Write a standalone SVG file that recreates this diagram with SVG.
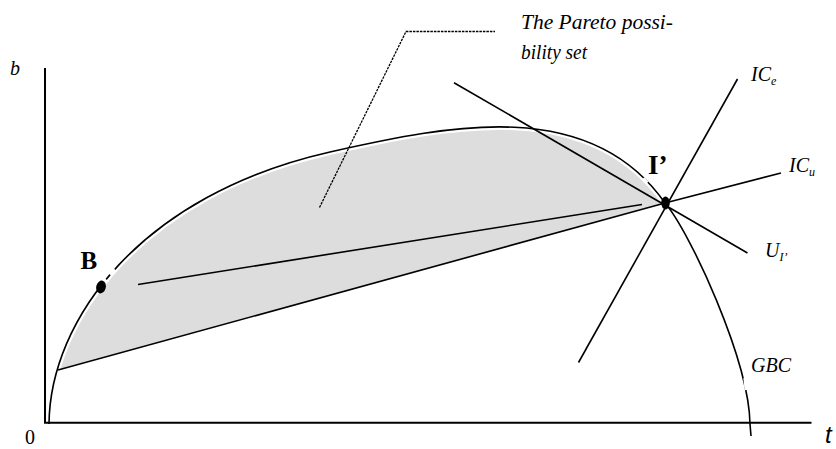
<svg xmlns="http://www.w3.org/2000/svg" width="836" height="449" viewBox="0 0 836 449">
<style>
.ln{stroke:#000;stroke-width:1.6;fill:none;stroke-linecap:butt}
.ax{stroke:#000;stroke-width:2;fill:none}
.it{font-family:"Liberation Serif",serif;font-style:italic;font-size:20px;fill:#000}
.bd{font-family:"Liberation Serif",serif;font-weight:bold;fill:#000}
.sub{font-size:12px}
.gap{stroke:#fff;stroke-width:4;fill:none}
</style>
<rect width="836" height="449" fill="#fff"/>
<g id="pareto-set">
<path d="M49,424 C50,320 140,195 330,152 C450,125 590,96 665,203 L58,370 Z" fill="#dddddd"/>
</g>
<g id="connectors">
<path d="M49,424 C50,320 140,195 330,152 C450,125 590,96 665,203 C690,232 749,360 750,424" stroke="#fff" stroke-width="6" fill="none"/>
<path id="gbc" class="ln" d="M49,424 C50,320 140,195 330,152 C450,125 590,96 665,203 C690,232 749,360 750,424 L751,436"/>
<line class="gap" x1="103.8" y1="282.3" x2="106.2" y2="279.4"/>
<line class="gap" x1="110" y1="274.6" x2="115" y2="269.5"/>
<line class="gap" x1="643" y1="178.5" x2="647" y2="183"/>
<line class="gap" x1="745.3" y1="378" x2="746.6" y2="390"/>
<line class="ln" x1="58" y1="370" x2="665" y2="203"/>
<line class="ln" x1="138" y1="284.5" x2="642" y2="204.5"/>
<line class="ln" x1="454" y1="82.7" x2="747.5" y2="253"/>
<line class="ln" x1="578.5" y1="362.5" x2="737.5" y2="79"/>
<line class="ln" x1="665" y1="203" x2="781" y2="173"/>
<polyline points="319.5,207.5 406,31.5 495,31.5" fill="none" stroke="#000" stroke-width="1.3" stroke-dasharray="2.5,1"/>
</g>
<g id="axes">
<line class="ax" x1="45" y1="68" x2="45" y2="423"/>
<line class="ax" x1="44" y1="422.7" x2="811.5" y2="422.7"/>
</g>
<g id="point-B">
<ellipse cx="101" cy="287" rx="4.8" ry="6.5" transform="rotate(15 101 287)" fill="#000"/>
<text class="bd" x="80.5" y="268.5" font-size="25">B</text>
</g>
<g id="point-I">
<ellipse cx="665.5" cy="203" rx="4.3" ry="6.5" fill="#000"/>
<text class="bd" x="648" y="173.5" font-size="27">I’</text>
</g>
<g id="labels">
<text class="it" x="521" y="29" font-size="21" textLength="152" lengthAdjust="spacingAndGlyphs">The  Pareto  possi-</text>
<text class="it" x="521" y="59" font-size="21" textLength="66" lengthAdjust="spacingAndGlyphs">bility set</text>
<text class="it" x="751" y="81">IC<tspan class="sub" dy="4">e</tspan></text>
<text class="it" x="789" y="172">IC<tspan class="sub" dy="4">u</tspan></text>
<text class="it" x="765" y="257">U<tspan class="sub" dy="4">I’</tspan></text>
<text class="it" x="751" y="372" font-size="21">GBC</text>
<text class="it" x="10" y="75" font-size="21">b</text>
<text x="825" y="443" font-family="Liberation Sans, sans-serif" font-style="italic" font-size="24">t</text>
<text x="25" y="444" font-family="Liberation Serif, serif" font-size="20">0</text>
</g>
</svg>
